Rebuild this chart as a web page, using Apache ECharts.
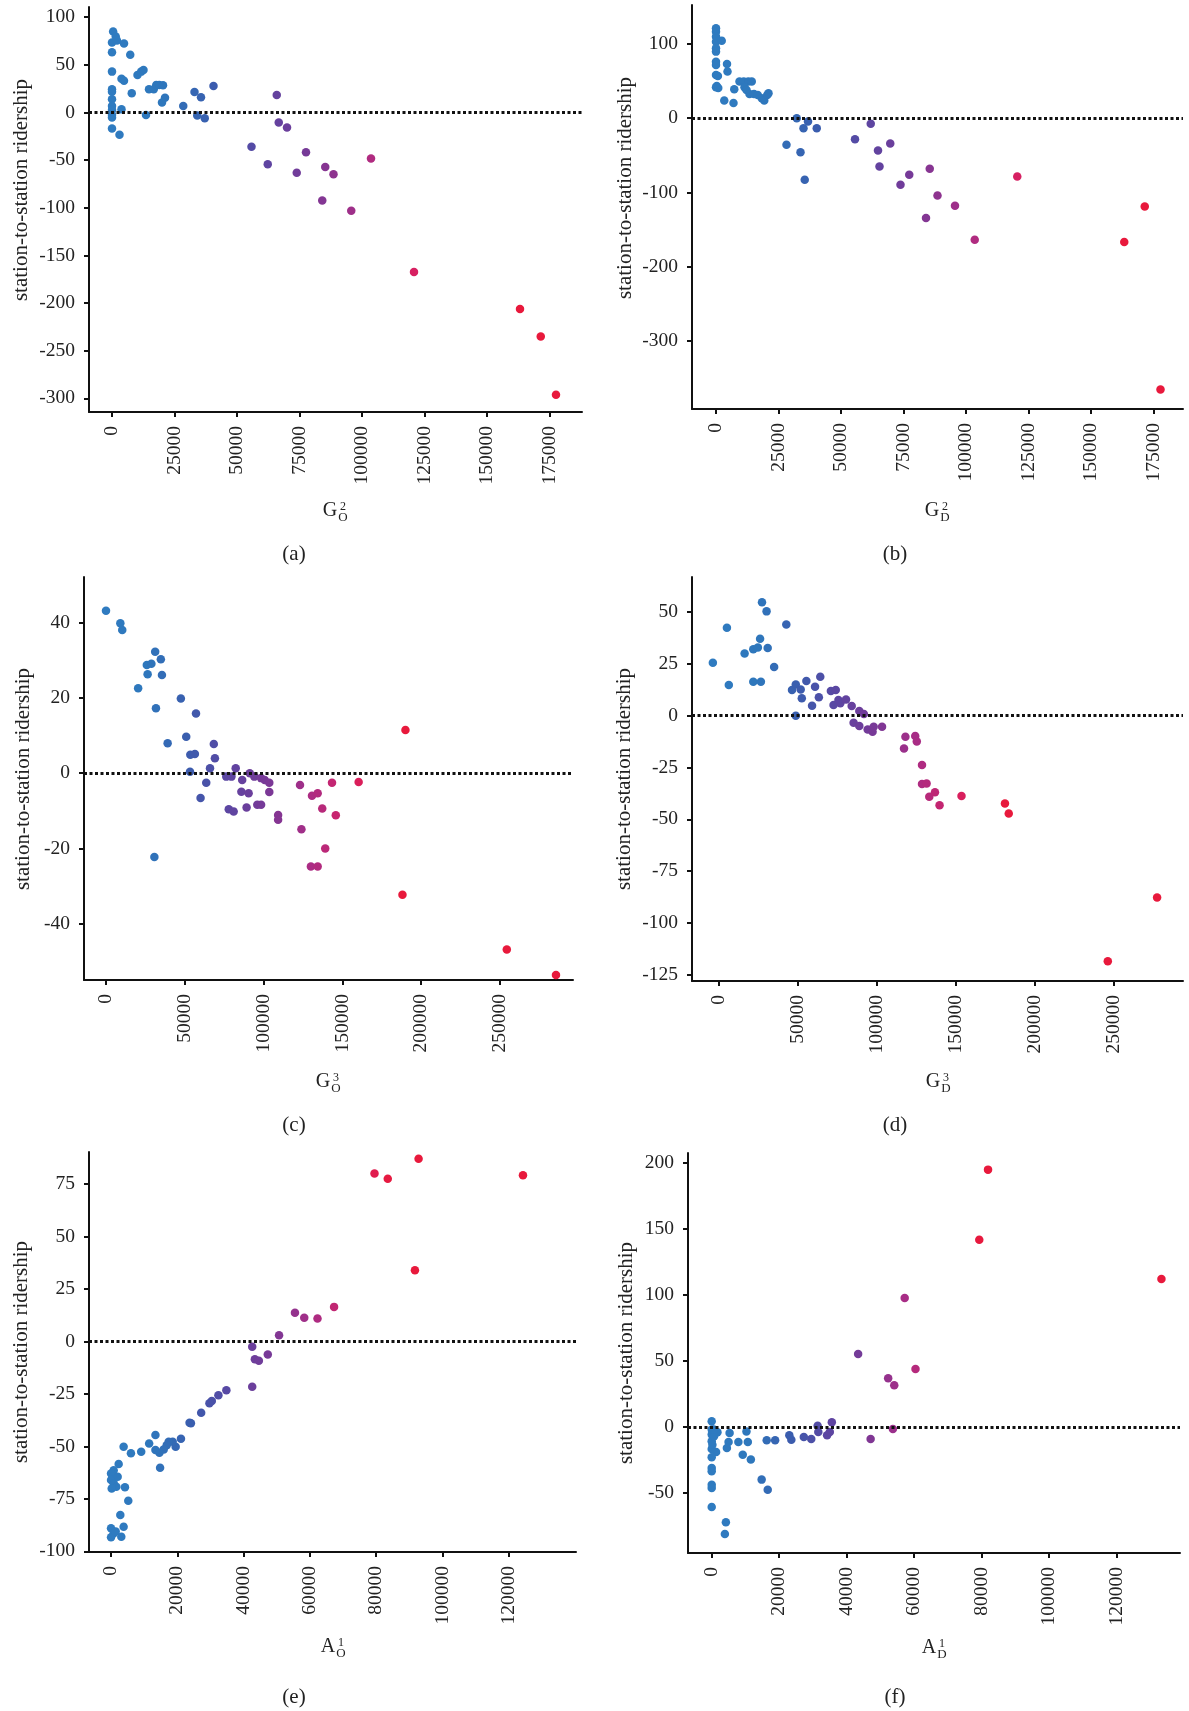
<!DOCTYPE html>
<html><head><meta charset="utf-8">
<script src="https://cdn.jsdelivr.net/npm/echarts@6/dist/echarts.min.js"></script>
<style>html,body{margin:0;padding:0;background:#fff}#c{width:1189px;height:1711px}</style>
</head><body><div id="c"></div>
<script>
// ---------------- data ----------------
const ptsA = [[450,84.9],[1500,79.6],[0,73.3],[2000,75.4],[4800,72.3],[7300,60.4],[0,63.2],[0,42.8],[3800,35.4],[4800,33.3],[7900,20],[10200,39.3],[11700,42.8],[12600,44.6],[14800,24.2],[16700,24.2],[17700,28.8],[18900,28.8],[20400,28.4],[21200,15.4],[20000,10.5],[0,24.2],[0,21.8],[0,13.7],[0,6.7],[0,2.5],[0,-2.8],[0,-5.3],[0,-16.8],[3000,-23.5],[3800,3.2],[13600,-2.8],[28500,6.7],[33000,21.4],[35600,15.8],[34100,-3.2],[37100,-6],[40600,27.7],[55800,-36],[62300,-54.4],[65900,18.2],[66700,-10.5],[70000,-15.8],[73900,-63.2],[77600,-41.8],[84100,-92.3],[85300,-57.2],[88600,-64.9],[95700,-103.2],[103600,-48.4],[120800,-167.4],[163200,-206.3],[171500,-235.1],[177600,-296.1]];
const ptsB = [[0,121.1],[0,116.6],[0,109.9],[0,103.1],[0,94.2],[0,89.7],[0,76.2],[0,71.7],[0,58.3],[760,57],[300,43.5],[0,41.7],[900,40.8],[2300,104.5],[4400,73.1],[4600,62.8],[3300,23.8],[7000,20.6],[7300,39],[9400,49.3],[11100,49.3],[12900,49.3],[14300,49.3],[11400,41.7],[12200,38.1],[13400,32.7],[15200,32.7],[16700,31.4],[18300,26.9],[19300,23.8],[20500,31.4],[21000,33.6],[28200,-35.9],[32300,0],[33800,-45.7],[35000,-13.5],[36800,-4.5],[35500,-83],[40300,-13.5],[55600,-28.3],[61900,-7.6],[64800,-43.5],[65400,-65],[69700,-34.1],[73800,-89.7],[77300,-76.2],[84000,-134.5],[85500,-68.2],[88600,-104],[95600,-117.9],[103500,-163.7],[120500,-78.5],[163300,-166.8],[171500,-118.8],[177800,-365.5]];
const ptsC = [[0,43.2],[9100,39.9],[10300,38.1],[31200,32.3],[34800,30.3],[25900,28.8],[28800,29.1],[26400,26.3],[35500,26.1],[20400,22.6],[31700,17.3],[47500,19.9],[57100,15.9],[39100,8],[50900,9.7],[53500,4.9],[56400,5.1],[53300,0.4],[63600,-2.5],[60000,-6.6],[68400,7.8],[69100,4],[66000,1.3],[30700,-22.3],[76300,-0.9],[79600,-0.9],[82300,1.3],[86400,-1.8],[85900,-4.9],[90500,-5.3],[91200,0],[94100,-0.9],[98400,-1.3],[100700,-1.8],[103600,-2.5],[103600,-5],[77900,-9.6],[81000,-10.2],[89200,-9.1],[96000,-8.4],[98400,-8.4],[109200,-11.1],[109200,-12.4],[123100,-3.1],[124000,-14.9],[130700,-6],[134300,-5.3],[137200,-9.4],[143400,-2.5],[145800,-11.2],[139100,-20],[130000,-24.8],[134300,-24.8],[160300,-2.3],[190000,11.5],[188100,-32.3],[254300,-46.9],[285500,-53.7]];
const ptsD = [[-3600,25.6],[5300,42.5],[6500,14.8],[16500,30.1],[22000,32.1],[24900,32.9],[26300,37.2],[27500,54.8],[30400,50.4],[31100,32.7],[22000,16.4],[26800,16.4],[35200,23.5],[42900,44.1],[46500,12.4],[48900,15.1],[52000,12.7],[52700,8.4],[48900,0],[55600,16.8],[59200,4.8],[61100,14],[63500,8.9],[64400,18.8],[71100,11.9],[74200,12.4],[72800,5.2],[77100,6],[75900,7.6],[80700,7.9],[84300,4.7],[89100,2.3],[92000,0.8],[85500,-3.4],[89100,-5],[94400,-6.6],[97500,-7.7],[98200,-5.3],[103500,-5.3],[118300,-10.1],[117400,-15.8],[124500,-9.8],[125500,-12.4],[128800,-23.8],[128800,-33],[131700,-32.7],[133400,-39.1],[137000,-37],[139900,-43.2],[153800,-38.8],[181300,-42.4],[183700,-47.2],[246400,-118.6],[277600,-87.8]];
const ptsE = [[79500,80],[83500,77.6],[92800,87.1],[91700,34],[124300,79.2],[67300,16.5],[55500,13.7],[58300,11.3],[62300,11],[50700,3],[42600,-2.5],[43400,-8.4],[44600,-9.2],[47300,-6.2],[42600,-21.6],[34800,-23.2],[32400,-25.6],[30400,-28.3],[29700,-29.4],[27200,-34],[24100,-39],[23700,-38.7],[21100,-46.3],[19500,-50.2],[18600,-47.8],[17400,-47.8],[16800,-49.4],[15900,-51.4],[14600,-53],[13400,-44.6],[13400,-51.7],[11500,-48.6],[9100,-52.5],[6000,-53.3],[3800,-50.2],[14800,-60.2],[2300,-58.4],[800,-61.3],[0,-62.9],[600,-64.4],[0,-66],[800,-67.6],[1600,-69.2],[4200,-69.5],[5200,-75.9],[2800,-82.7],[3800,-88.3],[0,-89],[800,-91.4],[0,-93.3],[3100,-93],[1400,-90.5],[2000,-64.4],[200,-70]];
const ptsF = [[81900,195],[79300,141.9],[133300,112.1],[57200,97.7],[60400,43.9],[43400,55.3],[52300,36.9],[54100,31.6],[53700,-1.5],[47100,-9.1],[35600,3.5],[31400,1],[31600,-3.8],[34200,-6.3],[35000,-3.8],[29500,-9.1],[27300,-7.6],[23600,-9.6],[23000,-6.3],[18800,-10.1],[16300,-10.1],[14800,-39.9],[16600,-47.5],[11600,-24.7],[9200,-21],[10300,-3.5],[10700,-11.4],[7900,-11.4],[5300,-4.5],[5000,-11.4],[4500,-15.9],[4200,-72.2],[3900,-81.1],[1700,-4],[1300,-18.9],[0,4.3],[0,-2],[0,-5.8],[0,-10.9],[0,-16.7],[0,-23],[0,-31.1],[0,-33.6],[0,-43.7],[0,-46.2],[0,-60.6],[300,-4.5],[700,-7.1],[200,-13.4],[600,-2]];

const xTicksG2 = [0,25000,50000,75000,100000,125000,150000,175000];
const xTicksG3 = [0,50000,100000,150000,200000,250000];
const xTicksA1 = [0,20000,40000,60000,80000,100000,120000];
const yTicksA = [-300,-250,-200,-150,-100,-50,0,50,100];
const yTicksB = [-300,-200,-100,0,100];
const yTicksC = [-40,-20,0,20,40];
const yTicksD = [-125,-100,-75,-50,-25,0,25,50];
const yTicksE = [-100,-75,-50,-25,0,25,50,75];
const yTicksF = [-50,0,50,100,150,200];

const yTitle = 'station-to-station ridership';
const xNames = [['G','2','O'],['G','2','D'],['G','3','O'],['G','3','D'],['A','1','O'],['A','1','D']];
const subLabels = ['(a)','(b)','(c)','(d)','(e)','(f)'];

// ---------------- layout / style ----------------
const FONT = '"Liberation Serif", "Times New Roman", serif';
const ramp = ['#2f7bc0','#2e77bc','#3a5dae','#5b46a2','#7a3896','#a82d86','#d62063','#e8193c'];
const panels = [
  {pts:ptsA, xt:xTicksG2, yt:yTicksA, g:{left:89,top:7,width:493,height:405}, xr:[-9200,188000], yr:[-314.3,110.6], cmax:140000, nameC:[335,511], yName:[21,190], subC:[294,554]},
  {pts:ptsB, xt:xTicksG2, yt:yTicksB, g:{left:692,top:5,width:491,height:404}, xr:[-9600,186800], yr:[-391.7,152.5], cmax:140000, nameC:[937,511], yName:[625,188], subC:[895,554]},
  {pts:ptsC, xt:xTicksG3, yt:yTicksC, g:{left:84,top:577,width:489,height:403}, xr:[-13960,296300], yr:[-55,52.2], cmax:180000, nameC:[328,1082], yName:[23,779], subC:[294,1125]},
  {pts:ptsD, xt:xTicksG3, yt:yTicksD, g:{left:692,top:577,width:491,height:404}, xr:[-16800,294000], yr:[-128.1,67], cmax:175000, nameC:[938,1082], yName:[624,779], subC:[895,1125]},
  {pts:ptsE, xt:xTicksA1, yt:yTicksE, g:{left:89,top:1152,width:487,height:400}, xr:[-6650,140300], yr:[-100.3,90.3], cmax:85000, nameC:[333,1647], yName:[21,1352], subC:[294,1697]},
  {pts:ptsF, xt:xTicksA1, yt:yTicksF, g:{left:688,top:1153,width:492,height:400}, xr:[-7030,138800], yr:[-95.5,207.6], cmax:80000, nameC:[934,1648], yName:[626,1353], subC:[895,1697]}
];

const axisCommon = {
  type:'value',
  axisLine:{show:true, onZero:false, lineStyle:{color:'#111', width:2}},
  splitLine:{show:false}
};

const grids = panels.map(p => Object.assign({containLabel:false}, p.g));
const xAxes = panels.map((p,i) => Object.assign({}, axisCommon, {
  gridIndex:i, min:p.xr[0], max:p.xr[1],
  axisTick:{show:true, customValues:p.xt, length:5, lineStyle:{color:'#111', width:2}},
  axisLabel:{customValues:p.xt, rotate:90, margin:14, fontFamily:FONT, fontSize:19.5, color:'#222', formatter:v=>String(v)}
}));
const yAxes = panels.map((p,i) => Object.assign({}, axisCommon, {
  gridIndex:i, min:p.yr[0], max:p.yr[1],
  axisTick:{show:true, customValues:p.yt, length:5, lineStyle:{color:'#111', width:2}},
  axisLabel:{customValues:p.yt, margin:14, fontFamily:FONT, fontSize:19.5, color:'#222', formatter:v=>String(v)}
}));
const series = panels.map((p,i) => ({
  type:'scatter', xAxisIndex:i, yAxisIndex:i, data:p.pts, symbolSize:8.5,
  itemStyle:{opacity:1},
  markLine:{silent:true, symbol:['none','none'], label:{show:false},
    lineStyle:{color:'#111', width:3, type:[3,2.5]}, data:[{yAxis:0}]}
}));
const visualMaps = panels.map((p,i) => ({
  type:'continuous', show:false, seriesIndex:i, dimension:0, min:0, max:p.cmax,
  inRange:{color:ramp}
}));

const graphic = [];
panels.forEach((p,i) => {
  graphic.push({type:'text', x:p.yName[0], y:p.yName[1], rotation:Math.PI/2,
    style:{text:yTitle, font:'21px '+FONT, fill:'#222', textAlign:'center', textVerticalAlign:'middle', align:'center', verticalAlign:'middle'}});
  const [cx, cy] = p.nameC;
  const nm = xNames[i];
  graphic.push({type:'text', x:cx-5, y:cy, style:{text:nm[0], font:'20px '+FONT, fill:'#222', textAlign:'center', textVerticalAlign:'middle', align:'center', verticalAlign:'middle'}});
  graphic.push({type:'text', x:cx+8, y:cy-4, style:{text:nm[1], font:'12px '+FONT, fill:'#222', textAlign:'center', textVerticalAlign:'middle', align:'center', verticalAlign:'middle'}});
  graphic.push({type:'text', x:cx+8, y:cy+7, style:{text:nm[2], font:'13px '+FONT, fill:'#222', textAlign:'center', textVerticalAlign:'middle', align:'center', verticalAlign:'middle'}});
  graphic.push({type:'text', x:p.subC[0], y:p.subC[1], style:{text:subLabels[i], font:'21px '+FONT, fill:'#222', textAlign:'center', textVerticalAlign:'middle', align:'center', verticalAlign:'middle'}});
});

const chart = echarts.init(document.getElementById('c'), null, {renderer:'canvas'});
chart.setOption({
  animation:false,
  backgroundColor:'#fff',
  grid:grids, xAxis:xAxes, yAxis:yAxes, series:series, visualMap:visualMaps, graphic:graphic
});
</script></body></html>
